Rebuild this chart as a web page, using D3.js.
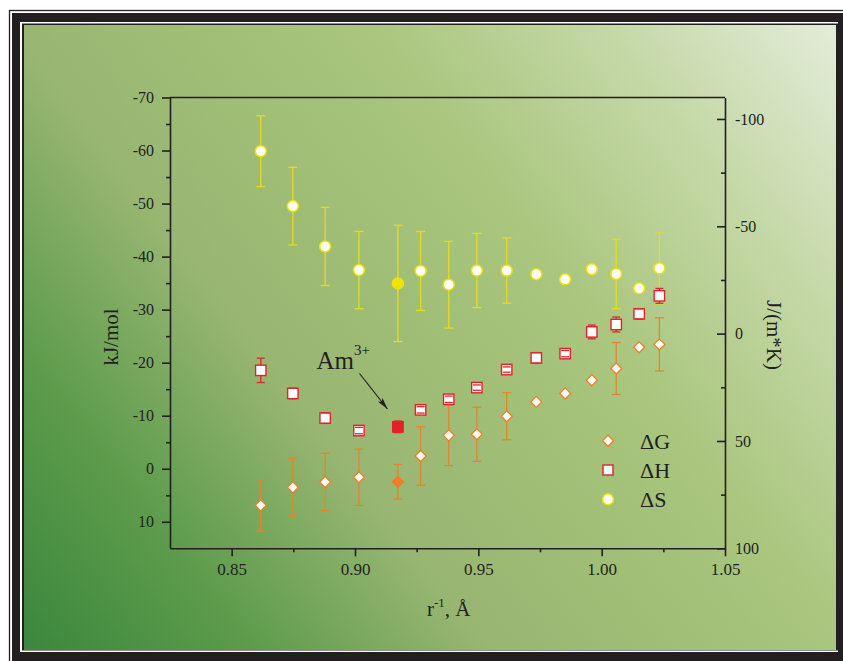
<!DOCTYPE html>
<html>
<head>
<meta charset="utf-8">
<script src="https://cdn.jsdelivr.net/npm/d3@7"></script>
<style>
  body { margin: 0; background: #fff; }
  svg { display: block; font-family: "Liberation Serif", "Times New Roman", serif; }
  .axis path, .axis line { stroke: #231f20; stroke-width: 1.6; }
  .axis text { fill: #231f20; font-family: "Liberation Serif", serif; }
</style>
</head>
<body>
<div id="chart"></div>
<script>
// ionic radius inverse, 1/Å
var radii = [0.8618, 0.8748, 0.8879, 0.9016, 0.9174, 0.9266, 0.9380, 0.9494,
             0.9615, 0.9735, 0.9852, 0.9960, 1.0059, 1.0152, 1.0234];
// ΔG, kJ/mol (left axis)
var dG    = [6.9, 3.5, 2.5, 1.6, 2.45, -2.4, -6.3, -6.5, -9.9, -12.6, -14.2, -16.7, -18.9, -22.9, -23.45];
var dGerr = [4.85, 5.45, 5.4, 5.3, 3.25, 5.5, 5.7, 5.1, 4.45, null, null, null, 4.9, null, 5.0];
// ΔH, kJ/mol (left axis)
var dH    = [-18.55, -14.2, -9.55, -7.2, -7.9, -11.1, -13.1, -15.3, -18.7, -20.9, -21.7, -25.8, -27.2, -29.2, -32.6];
var dHerr = [2.3, 1.0, 1.0, 0.6, 1.1, 0.6, 0.6, 0.5, 0.5, 1.0, 0.6, 1.3, 1.4, 0.95, 1.4];
// ΔS, J/(mol*K) (right axis)
var dS    = [-85.0, -59.4, -40.6, -29.6, -23.4, -29.2, -22.8, -29.4, -29.4, -27.7, -25.3, -30.0, -27.8, -21.1, -30.4];
var dSerr = [16.5, 18.1, 18.2, 18.0, 27.1, 18.4, 20.2, 17.3, 15.2, null, null, null, 16.2, null, 16.5];
var amIndex = 4; // Am3+

var xTicks = [0.85, 0.90, 0.95, 1.00, 1.05];
var xMinor = [0.875, 0.925, 0.975, 1.025];
var yLeftTicks = [-70, -60, -50, -40, -30, -20, -10, 0, 10];
var yLeftMinor = [-65, -55, -45, -35, -25, -15, -5, 5];
var yRightTicks = [-100, -50, 0, 50, 100];
var yRightMinor = [-75, -25, 25, 75];
var legendLabels = ["\u0394G", "\u0394H", "\u0394S"];

var W = 843, H = 661;
var plot = {left: 170, right: 725, top: 97.5, bottom: 548.3};
var ink = "#231f20";

var svg = d3.select("#chart").append("svg")
    .attr("width", W)
    .attr("height", H);

// background gradient
var defs = svg.append("defs");
var grad = defs.append("linearGradient")
    .attr("id", "bg")
    .attr("gradientUnits", "userSpaceOnUse")
    .attr("x1", 24).attr("y1", 650)
    .attr("x2", 836).attr("y2", 25);
[[0, "#3b873d"], [0.18, "#5e9c4c"], [0.36, "#98b672"], [0.5, "#a0be76"],
 [0.64, "#aac67f"], [0.82, "#c4d8a6"], [1, "#e3ecd8"]].forEach(function(s) {
    grad.append("stop").attr("offset", s[0]).attr("stop-color", s[1]);
});

// frame
svg.append("rect")
    .attr("x", 9.5).attr("y", 10.5)
    .attr("width", W).attr("height", H)
    .attr("fill", "none").attr("stroke", ink).attr("stroke-width", 1.3);
svg.append("rect")
    .attr("x", 12).attr("y", 13)
    .attr("width", W - 12).attr("height", H - 13)
    .attr("fill", ink);
svg.append("rect")
    .attr("x", 20).attr("y", 22)
    .attr("width", 818).attr("height", 630)
    .attr("fill", "#fff");
svg.append("rect")
    .attr("x", 22).attr("y", 23.5)
    .attr("width", 816).attr("height", 627)
    .attr("fill", ink);
svg.append("rect")
    .attr("x", 24).attr("y", 25)
    .attr("width", 812).attr("height", 625)
    .attr("fill", "url(#bg)");

// scales
var x = d3.scaleLinear().domain([0.825, 1.05]).range([plot.left, plot.right]);
var yL = d3.scaleLinear().domain([-70, 15]).range([plot.top, plot.bottom]);
var yR = d3.scaleLinear().domain([-110, 100]).range([plot.top, plot.bottom]);

// top border
svg.append("line")
    .attr("x1", plot.left).attr("x2", plot.right)
    .attr("y1", plot.top).attr("y2", plot.top)
    .attr("stroke", ink).attr("stroke-width", 1.6);

// left axis
svg.append("g")
    .attr("class", "axis")
    .attr("transform", "translate(" + plot.left + ",0)")
    .call(d3.axisLeft(yL).tickValues(yLeftTicks).tickSize(8).tickSizeOuter(0).tickPadding(8)
        .tickFormat(function(d) { return String(d); }))
    .call(function(g) { g.selectAll("text").style("font-size", "16px"); });
svg.append("g")
    .attr("class", "axis")
    .attr("transform", "translate(" + plot.left + ",0)")
    .call(d3.axisLeft(yL).tickValues(yLeftMinor).tickSize(4).tickSizeOuter(0).tickFormat(""))
    .call(function(g) { g.select(".domain").remove(); });

// right axis, ticks pointing in
svg.append("g")
    .attr("class", "axis")
    .attr("transform", "translate(" + plot.right + ",0)")
    .call(d3.axisRight(yR).tickValues(yRightTicks).tickSizeInner(-8).tickSizeOuter(0).tickPadding(10)
        .tickFormat(function(d) { return String(d); }))
    .call(function(g) { g.selectAll("text").style("font-size", "16px"); });
svg.append("g")
    .attr("class", "axis")
    .attr("transform", "translate(" + plot.right + ",0)")
    .call(d3.axisRight(yR).tickValues(yRightMinor).tickSizeInner(-4).tickSizeOuter(0).tickFormat(""))
    .call(function(g) { g.select(".domain").remove(); });

// bottom axis
svg.append("g")
    .attr("class", "axis")
    .attr("transform", "translate(0," + plot.bottom + ")")
    .call(d3.axisBottom(x).tickValues(xTicks).tickSize(8).tickSizeOuter(0).tickPadding(7)
        .tickFormat(d3.format(".2f")))
    .call(function(g) { g.selectAll("text").style("font-size", "17px"); });
svg.append("g")
    .attr("class", "axis")
    .attr("transform", "translate(0," + plot.bottom + ")")
    .call(d3.axisBottom(x).tickValues(xMinor).tickSize(4).tickSizeOuter(0).tickFormat(""))
    .call(function(g) { g.select(".domain").remove(); });

// axis titles
svg.append("text")
    .attr("transform", "translate(118,337) rotate(-90)")
    .attr("text-anchor", "middle")
    .attr("font-size", 21).attr("fill", ink)
    .text("kJ/mol");
svg.append("text")
    .attr("transform", "translate(767,335) rotate(90)")
    .attr("text-anchor", "middle")
    .attr("font-size", 21).attr("fill", ink)
    .text("J/(m*K)");
var xt = svg.append("text")
    .attr("x", 427).attr("y", 616)
    .attr("font-size", 21).attr("fill", ink);
xt.append("tspan").text("r");
xt.append("tspan").attr("dy", -9).attr("font-size", 13).text("-1");
xt.append("tspan").attr("dy", 9).text(", \u00c5");

// error bars
function errorBars(vals, errs, scale, color, cls) {
    var d = radii.map(function(r, i) { return {x: r, v: vals[i], e: errs[i]}; })
        .filter(function(p) { return p.e != null; });
    var g = svg.append("g").attr("class", cls)
        .attr("stroke", color).attr("stroke-width", 1.3);
    g.selectAll("line.v").data(d).enter().append("line")
        .attr("class", "v")
        .attr("x1", function(p) { return x(p.x); })
        .attr("x2", function(p) { return x(p.x); })
        .attr("y1", function(p) { return scale(p.v - p.e); })
        .attr("y2", function(p) { return scale(p.v + p.e); });
    return d;
}
function caps(d, scale, color, half) {
    var g = svg.append("g").attr("stroke", color).attr("stroke-width", 1.3);
    [-1, 1].forEach(function(s) {
        g.selectAll(null).data(d).enter().append("line")
            .attr("x1", function(p) { return x(p.x) - half; })
            .attr("x2", function(p) { return x(p.x) + half; })
            .attr("y1", function(p) { return scale(p.v + s * p.e); })
            .attr("y2", function(p) { return scale(p.v + s * p.e); });
    });
}

var sCol = "#efe200", hCol = "#e5202a", gCol = "#f07e26";
var sErrCol = "#e6dc1c", hErrCol = "#d62a2e", gErrCol = "#e3852f";

var sBars = errorBars(dS, dSerr, yR, sErrCol, "sErr");
caps(sBars, yR, sErrCol, 4.5);
var gBars = errorBars(dG, dGerr, yL, gErrCol, "gErr");
caps(gBars, yL, gErrCol, 4.5);
var hBars = errorBars(dH, dHerr, yL, hErrCol, "hErr");

// ΔG diamonds
var diamond = d3.symbol().type(d3.symbolDiamond2).size(78);
svg.append("g").selectAll("path")
    .data(radii)
    .enter().append("path")
    .attr("d", diamond)
    .attr("transform", function(r, i) { return "translate(" + x(r) + "," + yL(dG[i]) + ")"; })
    .attr("fill", function(r, i) { return i === amIndex ? gCol : "#fff"; })
    .attr("stroke", gCol).attr("stroke-width", 1.3);

// ΔH squares
svg.append("g").selectAll("rect")
    .data(radii)
    .enter().append("rect")
    .attr("x", function(r) { return x(r) - 5.2; })
    .attr("y", function(r, i) { return yL(dH[i]) - 5.2; })
    .attr("width", 10.4).attr("height", 10.4)
    .attr("fill", function(r, i) { return i === amIndex ? hCol : "#fff"; })
    .attr("stroke", hCol).attr("stroke-width", 1.4);
caps(hBars, yL, hErrCol, 4);

// ΔS circles
svg.append("g").selectAll("circle")
    .data(radii)
    .enter().append("circle")
    .attr("cx", function(r) { return x(r); })
    .attr("cy", function(r, i) { return yR(dS[i]); })
    .attr("r", 5.5)
    .attr("fill", function(r, i) { return i === amIndex ? sCol : "#fff"; })
    .attr("stroke", sCol).attr("stroke-width", 1.5);

// Am3+ annotation
var am = svg.append("text")
    .attr("x", 316.5).attr("y", 369)
    .attr("font-size", 25).attr("fill", ink);
am.append("tspan").text("Am");
am.append("tspan").attr("dy", -14).attr("font-size", 15).text("3+");
defs.append("marker")
    .attr("id", "arrow")
    .attr("viewBox", "0 0 12 6")
    .attr("refX", 12).attr("refY", 3)
    .attr("markerWidth", 12).attr("markerHeight", 6)
    .attr("markerUnits", "userSpaceOnUse")
    .attr("orient", "auto")
  .append("path")
    .attr("d", "M0,0 L12,3 L0,6 L3,3 Z")
    .attr("fill", ink);
svg.append("line")
    .attr("x1", 359.5).attr("y1", 373.5)
    .attr("x2", 387.5).attr("y2", 409)
    .attr("stroke", ink).attr("stroke-width", 1.2)
    .attr("marker-end", "url(#arrow)");

// legend
var legendY = [440.7, 470, 499.3];
var lg = svg.append("g");
lg.append("path")
    .attr("d", diamond)
    .attr("transform", "translate(608," + legendY[0] + ")")
    .attr("fill", "#fff").attr("stroke", gCol).attr("stroke-width", 1.3);
lg.append("rect")
    .attr("x", 603).attr("y", legendY[1] - 5)
    .attr("width", 10).attr("height", 10)
    .attr("fill", "#fff").attr("stroke", hCol).attr("stroke-width", 1.4);
lg.append("circle")
    .attr("cx", 608).attr("cy", legendY[2]).attr("r", 5.5)
    .attr("fill", "#fff").attr("stroke", sCol).attr("stroke-width", 1.5);
lg.selectAll("text")
    .data(legendLabels)
    .enter().append("text")
    .attr("x", 640)
    .attr("y", function(d, i) { return legendY[i] + 8; })
    .attr("font-size", 22).attr("fill", ink)
    .text(function(d) { return d; });
</script>
</body>
</html>
